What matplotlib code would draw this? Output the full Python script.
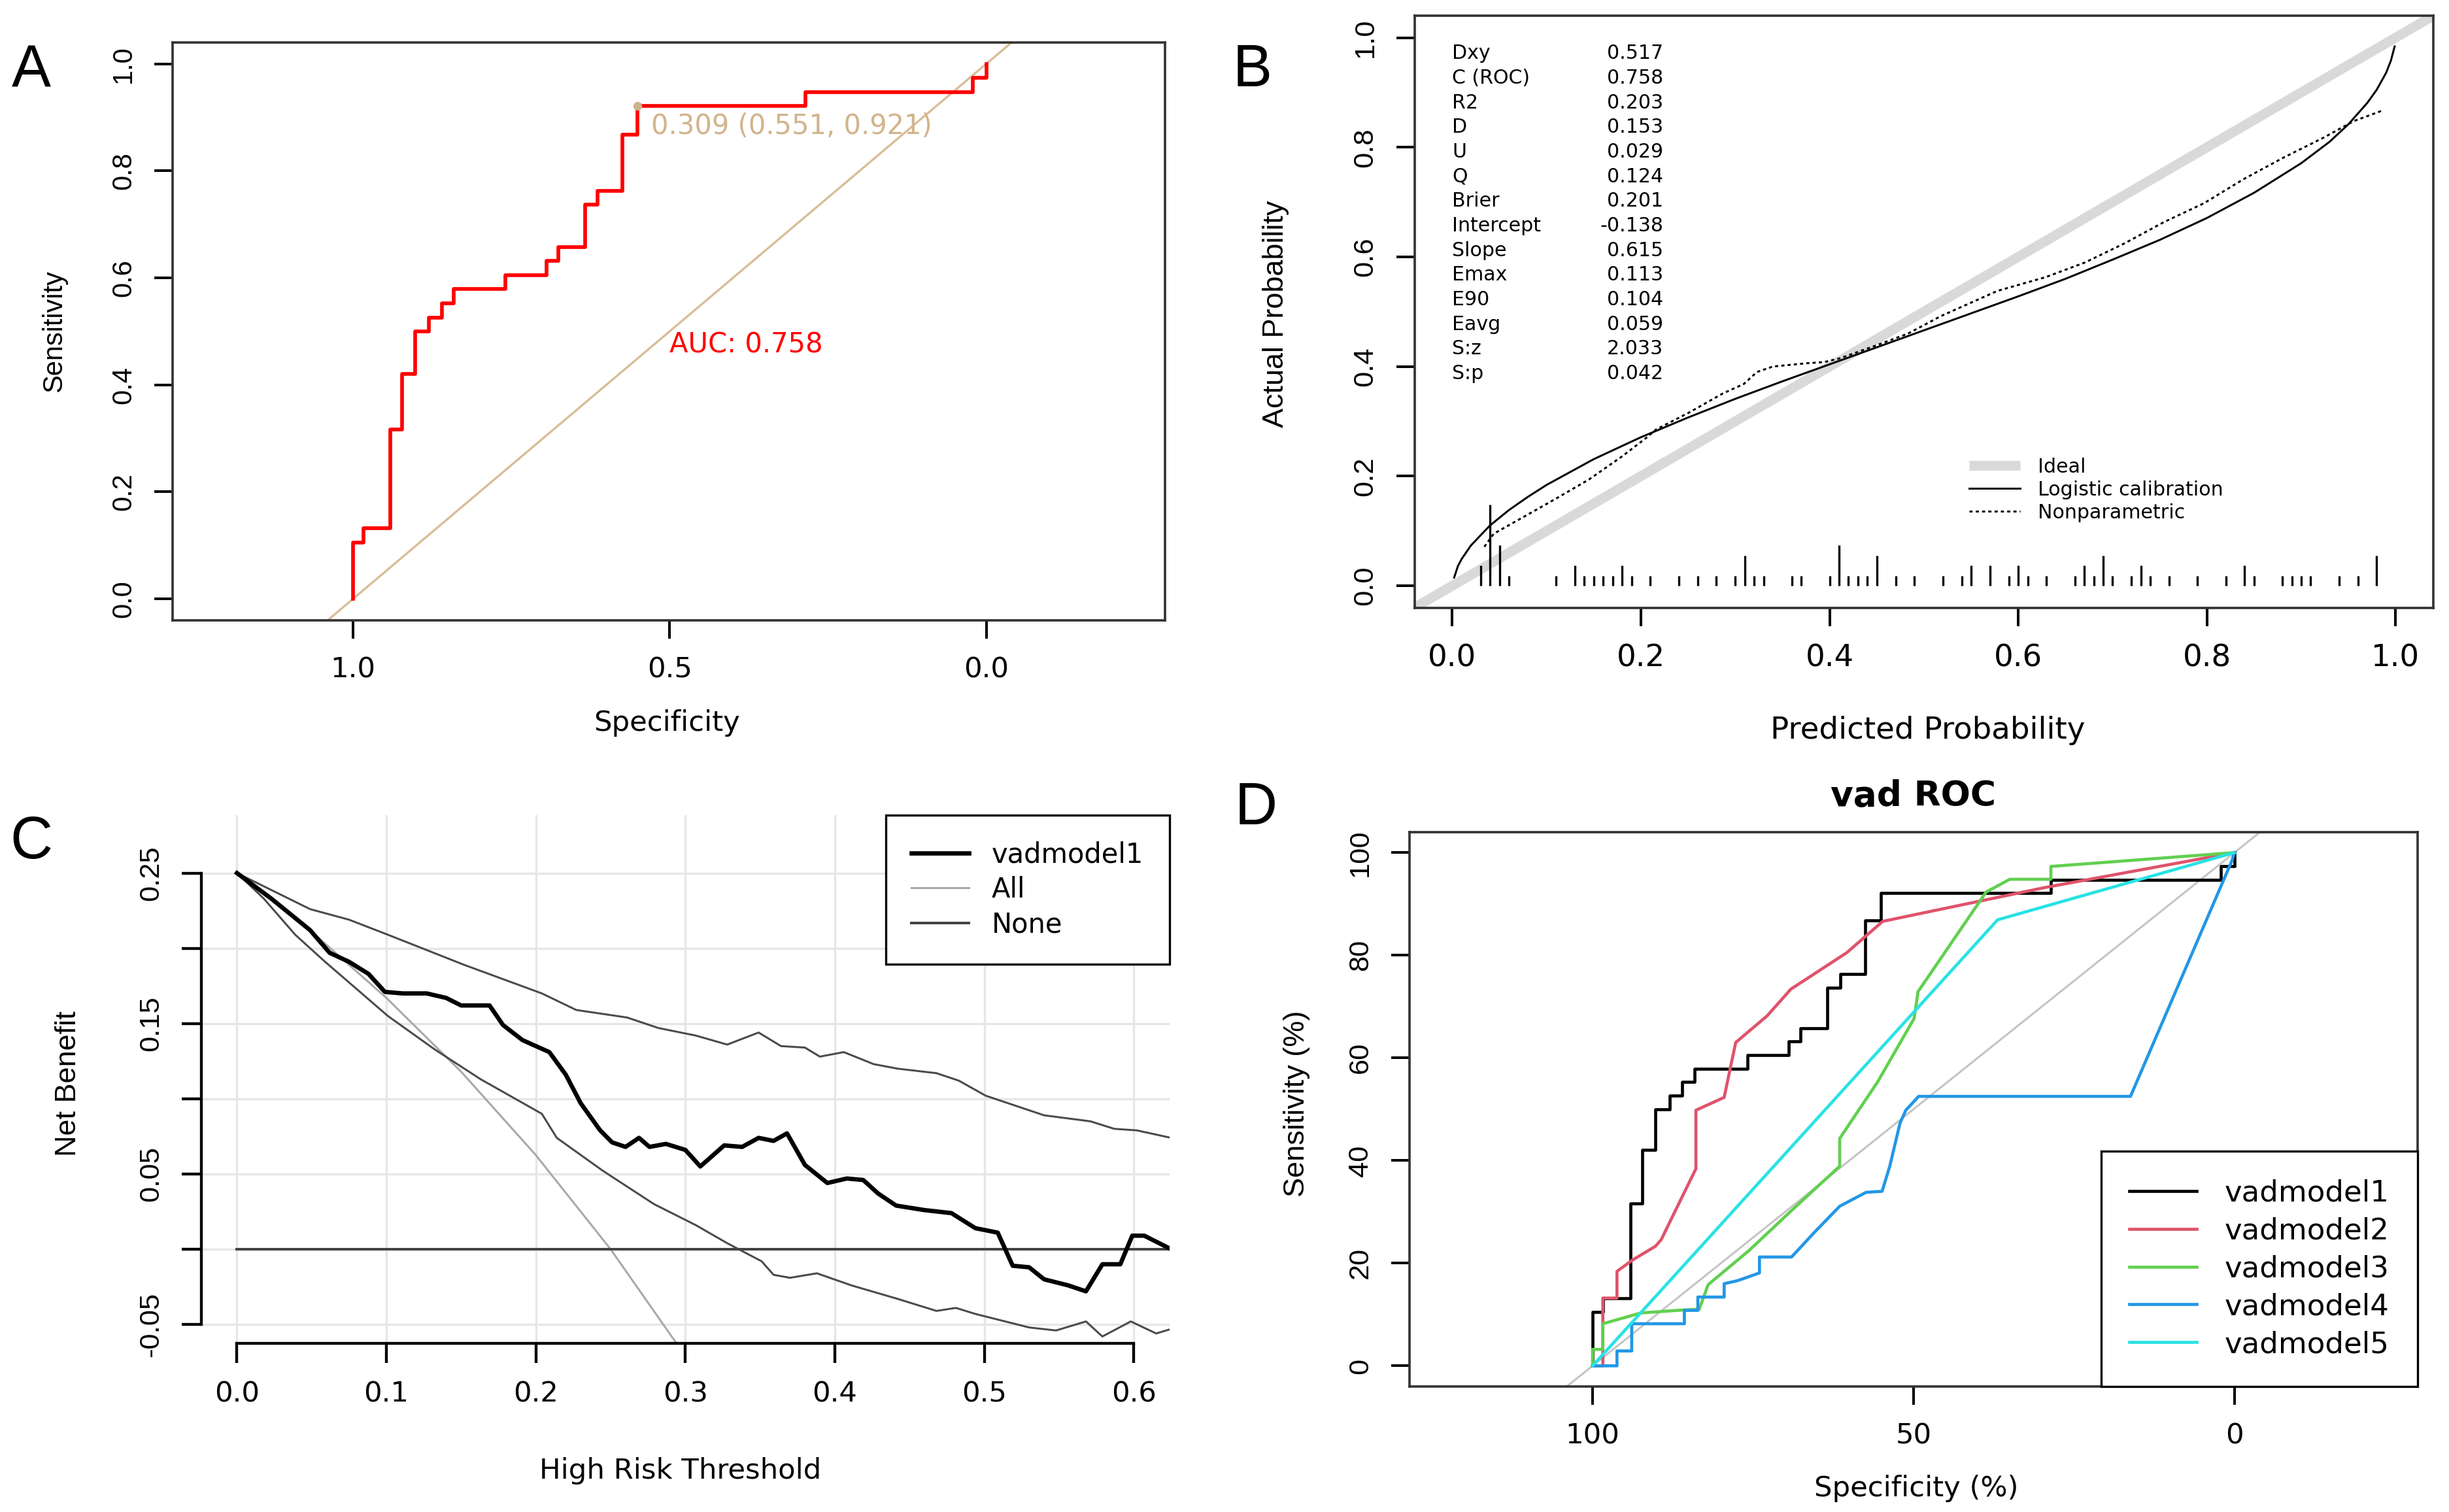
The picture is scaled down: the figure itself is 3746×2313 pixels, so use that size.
import numpy as np
import matplotlib
matplotlib.use("Agg")
import matplotlib.pyplot as plt

plt.rcParams["font.family"] = "DejaVu Sans"
ROT_FONT = "Liberation Sans"

# ---------------- panel A : ROC of vadmodel1 ----------------
roc_spec = [1.0, 0.984, 0.941, 0.923, 0.902, 0.880, 0.860, 0.841, 0.759, 0.694,
            0.676, 0.634, 0.614, 0.575, 0.551, 0.286, 0.021, 0.0]
roc_sens = [0.105, 0.132, 0.316, 0.421, 0.500, 0.526, 0.553, 0.579, 0.605, 0.632,
            0.658, 0.737, 0.763, 0.868, 0.921, 0.947, 0.974, 1.0]
best_thres = 0.309
best_spec, best_sens = 0.551, 0.921
auc = 0.758

# ---------------- panel B : calibration ----------------
logit_p = [0.002, 0.006, 0.01, 0.02, 0.04, 0.06, 0.08, 0.10, 0.15, 0.20, 0.25, 0.30,
           0.35, 0.40, 0.45, 0.50, 0.55, 0.60, 0.65, 0.70, 0.75, 0.80, 0.85, 0.90,
           0.93, 0.95, 0.97, 0.98, 0.99, 0.995, 0.999]
logit_obs = [0.015, 0.036, 0.049, 0.074, 0.110, 0.138, 0.162, 0.184, 0.231, 0.271,
             0.307, 0.341, 0.373, 0.404, 0.435, 0.466, 0.497, 0.528, 0.560, 0.595,
             0.631, 0.671, 0.717, 0.771, 0.810, 0.842, 0.881, 0.905, 0.936, 0.958, 0.984]
np_p = [0.034, 0.044, 0.074, 0.110, 0.145, 0.180, 0.205, 0.216, 0.251, 0.287, 0.309,
        0.323, 0.340, 0.376, 0.394, 0.411, 0.447, 0.483, 0.518, 0.578, 0.629, 0.671,
        0.713, 0.755, 0.797, 0.839, 0.881, 0.923, 0.956, 0.986]
np_obs = [0.071, 0.095, 0.124, 0.159, 0.194, 0.236, 0.269, 0.285, 0.316, 0.351, 0.368,
          0.390, 0.400, 0.406, 0.408, 0.415, 0.437, 0.460, 0.492, 0.538, 0.563, 0.590,
          0.625, 0.664, 0.698, 0.742, 0.781, 0.817, 0.848, 0.867]
rug_p = [0.03, 0.04, 0.05, 0.06, 0.11, 0.13, 0.14, 0.15, 0.16, 0.17, 0.18, 0.19, 0.21,
         0.24, 0.26, 0.28, 0.30, 0.31, 0.32, 0.33, 0.36, 0.37, 0.40, 0.41, 0.42, 0.43,
         0.44, 0.45, 0.47, 0.49, 0.52, 0.54, 0.55, 0.57, 0.59, 0.60, 0.61, 0.63, 0.66,
         0.67, 0.68, 0.69, 0.70, 0.72, 0.73, 0.74, 0.76, 0.79, 0.82, 0.84, 0.85, 0.88,
         0.89, 0.90, 0.91, 0.94, 0.96, 0.98]
rug_n = [2, 8, 4, 1, 1, 2, 1, 1, 1, 1, 2, 1, 1,
         1, 1, 1, 1, 3, 1, 1, 1, 1, 1, 4, 1, 1,
         1, 3, 1, 1, 1, 1, 2, 2, 1, 2, 1, 1, 1,
         2, 1, 3, 1, 1, 2, 1, 1, 1, 1, 2, 1, 1,
         1, 1, 1, 1, 1, 3]
stat_names = ["Dxy", "C (ROC)", "R2", "D", "U", "Q", "Brier", "Intercept", "Slope",
              "Emax", "E90", "Eavg", "S:z", "S:p"]
stat_values = ["0.517", "0.758", "0.203", "0.153", "0.029", "0.124", "0.201", "-0.138",
               "0.615", "0.113", "0.104", "0.059", "2.033", "0.042"]

# ---------------- panel C : decision curve ----------------
dca_x = [0, 0.023, 0.049, 0.062, 0.075, 0.088, 0.099, 0.111, 0.127, 0.140,
         0.150, 0.169, 0.178, 0.191, 0.209, 0.220, 0.230, 0.243, 0.251, 0.260,
         0.269, 0.276, 0.287, 0.300, 0.310, 0.326, 0.338, 0.349, 0.359, 0.368,
         0.380, 0.395, 0.408, 0.419, 0.429, 0.441, 0.460, 0.478, 0.494, 0.509,
         0.519, 0.530, 0.540, 0.556, 0.568, 0.579, 0.591, 0.599, 0.607, 0.625]
dca_nb = [0.25, 0.233, 0.212, 0.197, 0.191, 0.183, 0.171, 0.170, 0.170, 0.167,
          0.162, 0.162, 0.149, 0.139, 0.131, 0.116, 0.097, 0.079, 0.071, 0.068,
          0.074, 0.068, 0.070, 0.066, 0.055, 0.069, 0.068, 0.074, 0.072, 0.077,
          0.056, 0.044, 0.047, 0.046, 0.037, 0.029, 0.026, 0.024, 0.014, 0.011,
          -0.011, -0.012, -0.020, -0.024, -0.028, -0.010, -0.010, 0.009, 0.009, 0.0]
ci_hi_x = [0, 0.049, 0.075, 0.101, 0.152, 0.204, 0.227, 0.261, 0.282, 0.307, 0.328,
           0.349, 0.364, 0.380, 0.390, 0.406, 0.426, 0.442, 0.468, 0.483, 0.501,
           0.525, 0.540, 0.571, 0.587, 0.602, 0.625]
ci_hi = [0.25, 0.226, 0.219, 0.209, 0.189, 0.170, 0.159, 0.154, 0.147, 0.142, 0.136,
         0.144, 0.135, 0.134, 0.128, 0.131, 0.123, 0.120, 0.117, 0.112, 0.102,
         0.094, 0.089, 0.085, 0.080, 0.079, 0.074]
ci_lo_x = [0, 0.018, 0.039, 0.059, 0.080, 0.101, 0.132, 0.163, 0.204, 0.214, 0.245,
           0.279, 0.307, 0.328, 0.351, 0.359, 0.370, 0.388, 0.411, 0.442, 0.468,
           0.481, 0.494, 0.514, 0.530, 0.548, 0.568, 0.579, 0.598, 0.615, 0.625]
ci_lo = [0.25, 0.233, 0.209, 0.191, 0.173, 0.155, 0.133, 0.113, 0.090, 0.074, 0.052,
         0.030, 0.016, 0.004, -0.008, -0.017, -0.019, -0.016, -0.024, -0.033, -0.041,
         -0.039, -0.043, -0.048, -0.052, -0.054, -0.048, -0.058, -0.048, -0.056, -0.053]
all_x = [0, 0.05, 0.10, 0.15, 0.20, 0.25, 0.30]
all_nb = [0.25, 0.211, 0.167, 0.118, 0.0625, 0.0, -0.071]
none_x = [0, 0.625]
none_nb = [0, 0]

# ---------------- panel D : ROC of 5 models (percent) ----------------
spec2 = [100, 98.4, 98.4, 96.2, 96.2, 93.8, 90.2, 89.3, 87.0, 83.9, 83.9, 79.5, 79.0,
         77.7, 72.8, 69.1, 60.4, 54.8, 29.5, 0.0]
sens2 = [0, 0.0, 13.2, 13.2, 18.4, 20.6, 23.3, 24.6, 30.5, 38.4, 49.8, 52.3, 55.3,
         63.0, 68.2, 73.4, 80.5, 86.6, 93.2, 100.0]
spec3 = [100, 100, 98.4, 98.4, 92.5, 85.7, 83.4, 82.0, 75.6, 68.8, 61.5, 61.5, 55.6,
         49.9, 49.3, 38.7, 35.0, 28.6, 28.6, 0.0]
sens3 = [0, 3.2, 3.2, 8.2, 10.3, 10.9, 11.0, 15.8, 22.5, 30.5, 38.9, 44.3, 55.3,
         67.7, 72.9, 92.3, 94.8, 94.8, 97.3, 100]
spec4 = [100, 96.2, 96.2, 93.9, 93.9, 85.7, 85.7, 83.6, 83.6, 79.5, 79.5, 77.4, 74.0,
         74.0, 69.0, 65.6, 61.5, 57.4, 54.9, 53.7, 52.1, 51.2, 49.2, 16.2, 0.4, 0.0]
sens4 = [0, 0, 2.9, 2.9, 8.2, 8.2, 10.8, 10.8, 13.4, 13.4, 16.0, 16.6, 18.1,
         21.2, 21.2, 25.8, 31.1, 33.8, 34.0, 38.9, 47.3, 49.8, 52.5, 52.5, 98.4, 100]
spec5 = [100, 36.9, 0.0]
sens5 = [0, 86.9, 100]
model_names = ["vadmodel1", "vadmodel2", "vadmodel3", "vadmodel4", "vadmodel5"]
model_colors = ["black", "#DF536B", "#61D04F", "#2297E6", "#28E2E5"]


def staircase(spec, sens):
    # vertical rise at each specificity, then move left to the next one
    xs, ys = [spec[0]], [0.0]
    for i in range(len(spec)):
        xs.append(spec[i]); ys.append(sens[i])
        if i + 1 < len(spec):
            xs.append(spec[i + 1]); ys.append(sens[i])
    return np.array(xs), np.array(ys)


def box_axes(ax):
    for s in ax.spines.values():
        s.set_color("#333333")
        s.set_linewidth(1.1)
    ax.tick_params(direction="out", length=8.5, width=1.2, color="black",
                   labelsize=13, pad=8)


def rot_yticks(ax, ticks, labels, size=12.5):
    ax.set_yticks(ticks)
    ax.set_yticklabels(labels, rotation=90, va="center", fontfamily=ROT_FONT,
                       fontsize=size)


fig = plt.figure(figsize=(3746 / 240, 2313 / 240), dpi=240)

# ---------- A ----------
axA = fig.add_axes([0.0705, 0.5898, 0.4051, 0.3821])
xa, ya = staircase(roc_spec, roc_sens)
axA.axline((1, 0), (0, 1), color="#D8BD98", lw=1.0)
axA.plot(xa, ya, color="red", lw=1.7)
axA.plot([best_spec], [best_sens], "o", color="#CDB38B", ms=3)
axA.text(best_spec - 0.022, best_sens - 0.012, f"{best_thres:.3f} ({best_spec:.3f}, {best_sens:.3f})",
         color="#D2B48C", fontsize=12.5, ha="left", va="top")
axA.text(0.5, 0.5, f"AUC: {auc:.3f}", color="red", fontsize=12.5, ha="left", va="top")
axA.set_xlim(1.285, -0.282)
axA.set_ylim(-0.04, 1.04)
box_axes(axA)
axA.set_xticks([1.0, 0.5, 0.0])
axA.set_xticklabels(["1.0", "0.5", "0.0"])
rot_yticks(axA, [0, 0.2, 0.4, 0.6, 0.8, 1.0], ["0.0", "0.2", "0.4", "0.6", "0.8", "1.0"])
axA.set_xlabel("Specificity", fontsize=13, va="center")
axA.xaxis.set_label_coords(0.498, -0.178)
axA.set_ylabel("Sensitivity", fontsize=12.5, fontfamily=ROT_FONT, va="center")
axA.yaxis.set_label_coords(-0.119, 0.5)

# ---------- B ----------
axB = fig.add_axes([0.5776, 0.5981, 0.4160, 0.3915])
ideal = axB.axline((0, 0), (1, 1), color="#D9D9D9", lw=4.5, solid_capstyle="butt", label="Ideal")
logi, = axB.plot(logit_p, logit_obs, color="black", lw=0.9, label="Logistic calibration")
nonp, = axB.plot(np_p, np_obs, color="black", lw=0.9, ls=(0, (1.6, 1.6)), label="Nonparametric")
axB.vlines(rug_p, 0, np.array(rug_n) * 0.0185, color="black", lw=1.0)
for i, (nm, val) in enumerate(zip(stat_names, stat_values)):
    yy = 0.971 - i * 0.0449
    axB.text(0.0, yy, nm, fontsize=9, ha="left", va="center")
    axB.text(0.2235, yy, val, fontsize=9, ha="right", va="center")
axB.legend(handles=[ideal, logi, nonp], loc="center left", bbox_to_anchor=(0.548, 0.175),
           bbox_transform=axB.transData, frameon=False, fontsize=9, handlelength=2.6,
           handletextpad=0.9, labelspacing=0.2, borderpad=0, borderaxespad=0)
axB.set_xlim(-0.04, 1.04)
axB.set_ylim(-0.04, 1.04)
box_axes(axB)
axB.set_xticks([0, 0.2, 0.4, 0.6, 0.8, 1.0])
axB.set_xticklabels(["0.0", "0.2", "0.4", "0.6", "0.8", "1.0"], fontsize=14)
rot_yticks(axB, [0, 0.2, 0.4, 0.6, 0.8, 1.0], ["0.0", "0.2", "0.4", "0.6", "0.8", "1.0"], 13)
axB.set_xlabel("Predicted Probability", fontsize=14, va="center")
axB.xaxis.set_label_coords(0.504, -0.207)
axB.set_ylabel("Actual Probability", fontsize=13.5, fontfamily=ROT_FONT, va="center")
axB.yaxis.set_label_coords(-0.136, 0.496)

# ---------- C ----------
axC = fig.add_axes([0.0821, 0.1116, 0.3955, 0.3494])
axC.set_xlim(-0.024, 0.624)
axC.set_ylim(-0.0625, 0.2886)
axC.set_xticks([0, 0.1, 0.2, 0.3, 0.4, 0.5, 0.6])
axC.set_xticklabels(["0.0", "0.1", "0.2", "0.3", "0.4", "0.5", "0.6"])
axC.grid(True, color="#E6E6E6", lw=1.0)
axC.set_axisbelow(True)
all_line, = axC.plot(all_x, all_nb, color="#A8A8A8", lw=0.9, label="All")
none_line, = axC.plot(none_x, none_nb, color="#444444", lw=1.2, label="None")
axC.plot(ci_hi_x, ci_hi, color="#4A4A4A", lw=0.9)
axC.plot(ci_lo_x, ci_lo, color="#4A4A4A", lw=0.9)
main_line, = axC.plot(dca_x, dca_nb, color="black", lw=2.0, label="vadmodel1")
for side in ["top", "right"]:
    axC.spines[side].set_visible(False)
axC.spines["left"].set_bounds(-0.05, 0.25)
axC.spines["bottom"].set_bounds(0, 0.6)
for side in ["left", "bottom"]:
    axC.spines[side].set_linewidth(1.3)
axC.tick_params(direction="out", length=9, width=1.3, labelsize=13, pad=8)
rot_yticks(axC, [-0.05, 0, 0.05, 0.1, 0.15, 0.2, 0.25],
           ["-0.05", "", "0.05", "", "0.15", "", "0.25"], 13)
leg = axC.legend(handles=[main_line, all_line, none_line], loc="upper right",
                 fontsize=12.5, frameon=True, fancybox=False, edgecolor="black",
                 framealpha=1, borderaxespad=0, borderpad=0.95, handlelength=2.1,
                 handletextpad=0.85, labelspacing=0.28)
leg.get_frame().set_linewidth(1.0)
axC.set_xlabel("High Risk Threshold", fontsize=13, va="center")
axC.xaxis.set_label_coords(0.495, -0.242)
axC.set_ylabel("Net Benefit", fontsize=13.5, fontfamily=ROT_FONT, va="center")
axC.yaxis.set_label_coords(-0.137, 0.492)

# ---------- D ----------
axD = fig.add_axes([0.5756, 0.0831, 0.4115, 0.3666])
axD.axline((100, 0), (0, 100), color="#C4C4C4", lw=0.9)
x1, y1 = staircase(roc_spec, roc_sens)
curves = [(x1 * 100, y1 * 100), (spec2, sens2), (spec3, sens3), (spec4, sens4), (spec5, sens5)]
handles = []
for (cx, cy), name, col in zip(curves, model_names, model_colors):
    h, = axD.plot(cx, cy, color=col, lw=1.4, label=name)
    handles.append(h)
axD.set_xlim(128.5, -28.5)
axD.set_ylim(-4, 104)
box_axes(axD)
axD.set_xticks([100, 50, 0])
axD.set_xticklabels(["100", "50", "0"])
rot_yticks(axD, [0, 20, 40, 60, 80, 100], ["0", "20", "40", "60", "80", "100"], 13)
legD = axD.legend(handles=handles, loc="lower right", fontsize=13.5, frameon=True,
                  fancybox=False, edgecolor="black", framealpha=1, borderaxespad=0,
                  borderpad=0.95, handlelength=2.3, handletextpad=0.95, labelspacing=0.33)
legD.get_frame().set_linewidth(1.0)
axD.set_title("vad ROC", fontsize=16, fontweight="bold", pad=12)
axD.set_xlabel("Specificity (%)", fontsize=13, va="center")
axD.xaxis.set_label_coords(0.503, -0.184)
axD.set_ylabel("Sensitivity (%)", fontsize=13.5, fontfamily=ROT_FONT, va="center")
axD.yaxis.set_label_coords(-0.112, 0.51)

# panel letters
for lbl, px, py in [("A", 0.0128, 0.953), ("B", 0.5115, 0.953),
                    ("C", 0.0128, 0.4424), ("D", 0.5128, 0.465)]:
    fig.text(px, py, lbl, fontsize=27, fontfamily=ROT_FONT, ha="center", va="center")

fig.savefig("out.png", dpi=240)
